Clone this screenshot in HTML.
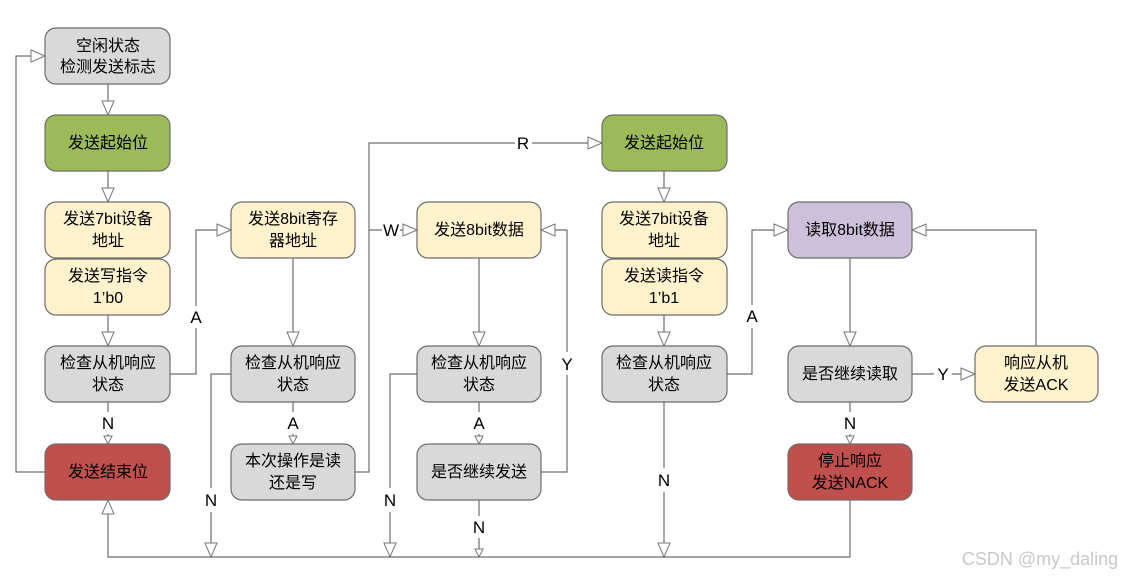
<!DOCTYPE html>
<html><head><meta charset="utf-8"><style>
body{margin:0;background:#fff;width:1129px;height:578px;overflow:hidden}
svg text{font-family:"Liberation Sans","Noto Sans CJK SC",sans-serif;font-size:16px;fill:#000}
.l{font-size:17px}
</style></head><body>
<svg width="1129" height="578" xmlns="http://www.w3.org/2000/svg">
<defs>
<marker id="a" markerWidth="16" markerHeight="14" refX="15" refY="7" orient="auto" markerUnits="userSpaceOnUse"><path d="M1,1 L15,7 L1,13 Z" fill="#fff" stroke="#777" stroke-width="1"/></marker>
<marker id="s" markerWidth="10" markerHeight="10" refX="9" refY="5" orient="auto" markerUnits="userSpaceOnUse"><path d="M1,1 L9,5 L1,9 Z" fill="#fff" stroke="#777" stroke-width="1"/></marker>
</defs>
<g stroke="#6d6d6d" stroke-width="1.2">
<rect x="45" y="28" width="125" height="56" rx="11" fill="#d9d9d9"/>
<rect x="45" y="115" width="125" height="56" rx="11" fill="#9bbb59"/>
<rect x="45" y="202" width="125" height="56" rx="11" fill="#fff2cc"/>
<rect x="45" y="259" width="125" height="56" rx="11" fill="#fff2cc"/>
<rect x="45" y="346" width="125" height="56" rx="11" fill="#d9d9d9"/>
<rect x="45" y="444" width="125" height="56" rx="11" fill="#c0504d"/>
<rect x="231" y="202" width="124" height="56" rx="11" fill="#fff2cc"/>
<rect x="231" y="346" width="124" height="56" rx="11" fill="#d9d9d9"/>
<rect x="231" y="444" width="124" height="56" rx="11" fill="#d9d9d9"/>
<rect x="417" y="202" width="124" height="56" rx="11" fill="#fff2cc"/>
<rect x="417" y="346" width="124" height="56" rx="11" fill="#d9d9d9"/>
<rect x="417" y="444" width="124" height="56" rx="11" fill="#d9d9d9"/>
<rect x="602" y="115" width="125" height="56" rx="11" fill="#9bbb59"/>
<rect x="602" y="202" width="125" height="56" rx="11" fill="#fff2cc"/>
<rect x="602" y="259" width="125" height="56" rx="11" fill="#fff2cc"/>
<rect x="602" y="346" width="125" height="56" rx="11" fill="#d9d9d9"/>
<rect x="788" y="202" width="124" height="56" rx="11" fill="#ccc0da"/>
<rect x="788" y="346" width="124" height="56" rx="11" fill="#d9d9d9"/>
<rect x="788" y="444" width="124" height="56" rx="11" fill="#c0504d"/>
<rect x="975" y="346" width="123" height="56" rx="11" fill="#fff2cc"/>
</g>
<g stroke="#6d6d6d" stroke-width="1.2" fill="none">
<path d="M45,472 H16 V56 H45" marker-end="url(#a)"/>
<path d="M108,84 V115" marker-end="url(#a)"/>
<path d="M108,171 V202" marker-end="url(#a)"/>
<path d="M108,315 V346" marker-end="url(#a)"/>
<path d="M108,402 V412 M108,434 V444" marker-end="url(#s)"/>
<path d="M170,374 H196 V328 M196,306 V230 H231" marker-end="url(#a)"/>
<path d="M293,258 V346" marker-end="url(#a)"/>
<path d="M293,402 V412 M293,434 V444" marker-end="url(#s)"/>
<path d="M231,374 H211 V488 M211,512 V557" marker-end="url(#a)"/>
<path d="M355,472 H369 V143 H515 M532,143 H602" marker-end="url(#a)"/>
<path d="M369,230 H382 M400,230 H417" marker-end="url(#a)"/>
<path d="M479,258 V346" marker-end="url(#a)"/>
<path d="M479,402 V412 M479,434 V444" marker-end="url(#s)"/>
<path d="M417,374 H390 V488 M390,512 V557" marker-end="url(#a)"/>
<path d="M479,500 V516 M479,538 V557" marker-end="url(#s)"/>
<path d="M541,472 H567 V375 M567,352 V230 H541" marker-end="url(#a)"/>
<path d="M664,171 V202" marker-end="url(#a)"/>
<path d="M664,315 V346" marker-end="url(#a)"/>
<path d="M727,374 H752 V328 M752,305 V230 H788" marker-end="url(#a)"/>
<path d="M664,402 V468 M664,492 V557" marker-end="url(#a)"/>
<path d="M850,258 V346" marker-end="url(#a)"/>
<path d="M912,374 H934 M952,374 H975" marker-end="url(#a)"/>
<path d="M1036,346 V230 H912" marker-end="url(#a)"/>
<path d="M850,402 V412 M850,434 V444" marker-end="url(#s)"/>
<path d="M850,500 V557 H108 V500" marker-end="url(#a)"/>
</g>
<g text-anchor="middle">
<text x="108" y="51">空闲状态</text><text x="108" y="72">检测发送标志</text>
<text x="108" y="148">发送起始位</text>
<text x="108" y="224">发送7bit设备</text><text x="108" y="246">地址</text>
<text x="108" y="281">发送写指令</text><text x="108" y="303">1’b0</text>
<text x="108" y="368">检查从机响应</text><text x="108" y="390">状态</text>
<text x="108" y="477">发送结束位</text>
<text x="293" y="224">发送8bit寄存</text><text x="293" y="246">器地址</text>
<text x="293" y="368">检查从机响应</text><text x="293" y="390">状态</text>
<text x="293" y="466">本次操作是读</text><text x="293" y="488">还是写</text>
<text x="479" y="235">发送8bit数据</text>
<text x="479" y="368">检查从机响应</text><text x="479" y="390">状态</text>
<text x="479" y="477">是否继续发送</text>
<text x="664" y="148">发送起始位</text>
<text x="664" y="224">发送7bit设备</text><text x="664" y="246">地址</text>
<text x="664" y="281">发送读指令</text><text x="664" y="303">1’b1</text>
<text x="664" y="368">检查从机响应</text><text x="664" y="390">状态</text>
<text x="850" y="235">读取8bit数据</text>
<text x="850" y="379">是否继续读取</text>
<text x="850" y="466">停止响应</text><text x="850" y="488">发送NACK</text>
<text x="1036" y="368">响应从机</text><text x="1036" y="390">发送ACK</text>
<g class="l">
<text class="l" x="108" y="429">N</text>
<text class="l" x="196" y="323">A</text>
<text class="l" x="293" y="429">A</text>
<text class="l" x="211" y="506">N</text>
<text class="l" x="523" y="149">R</text>
<text class="l" x="391" y="236">W</text>
<text class="l" x="479" y="429">A</text>
<text class="l" x="390" y="506">N</text>
<text class="l" x="479" y="533">N</text>
<text class="l" x="567" y="370">Y</text>
<text class="l" x="752" y="322">A</text>
<text class="l" x="664" y="486">N</text>
<text class="l" x="943" y="380">Y</text>
<text class="l" x="850" y="429">N</text>
</g>
</g>
<text x="1040" y="565" text-anchor="middle" style="fill:#c8c8c8;font-size:18px">CSDN @my_daling</text>
</svg>
</body></html>
